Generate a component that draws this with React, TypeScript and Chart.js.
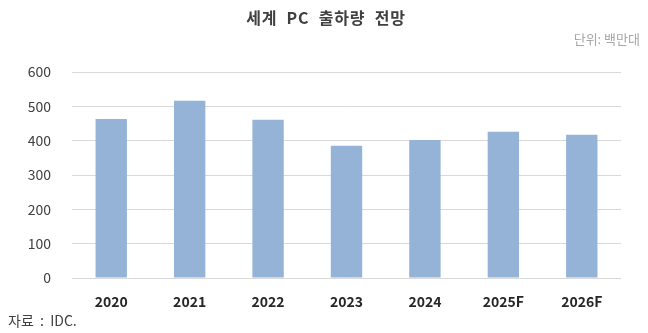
import React, { useEffect, useRef } from "react";
import { Chart, registerables } from "chart.js";

Chart.register(...registerables);

const categories = ["2020", "2021", "2022", "2023", "2024", "2025F", "2026F"];
const shipments = [463, 516, 461, 385, 402, 426, 417];
const yTicks = [0, 100, 200, 300, 400, 500, 600];

const FONT = "'Noto Sans CJK KR', 'Noto Sans', sans-serif";

export default function App() {
  const ref = useRef<HTMLCanvasElement | null>(null);

  useEffect(() => {
    if (!ref.current) return;
    const chart = new Chart(ref.current, {
      type: "bar",
      data: {
        labels: categories,
        datasets: [
          {
            label: "PC 출하량",
            data: shipments,
            backgroundColor: "#95b3d7",
            borderWidth: 0,
            categoryPercentage: 1,
            barPercentage: 0.4,
          },
        ],
      },
      options: {
        responsive: false,
        animation: false,
        layout: { padding: { top: 72, right: 27, bottom: 25, left: 0 } },
        plugins: {
          legend: { display: false },
          tooltip: { enabled: false },
          title: { display: false },
        },
        scales: {
          x: {
            grid: { display: false },
            border: { display: false },
            ticks: {
              color: "#262626",
              font: { family: FONT, size: 14, weight: "bold" },
              padding: 7,
            },
            afterFit: (s: any) => {
              s.height = 30;
            },
          },
          y: {
            min: 0,
            max: 600,
            afterBuildTicks: (s: any) => {
              s.ticks = yTicks.map((v) => ({ value: v }));
            },
            grid: {
              color: "#d9d9d9",
              lineWidth: 1,
              drawTicks: false,
            },
            border: { display: false },
            ticks: {
              color: "#404040",
              font: { family: FONT, size: 14 },
              padding: 21,
            },
            afterFit: (s: any) => {
              s.width = 72;
            },
          },
        },
      },
    });
    return () => chart.destroy();
  }, []);

  return (
    <div
      style={{
        position: "fixed",
        left: 0,
        top: 0,
        width: 648,
        height: 333,
        background: "#fff",
        fontFamily: FONT,
      }}
    >
      <canvas ref={ref} width={648} height={333} style={{ position: "absolute", left: 0, top: 0 }} />
      <div
        style={{
          position: "absolute",
          left: 0,
          width: 648,
          top: 6,
          textAlign: "center",
          fontSize: 16,
          fontWeight: "bold",
          letterSpacing: "0.8px",
          wordSpacing: "5px",
          color: "#404040",
          lineHeight: "22px",
          paddingLeft: 2,
        }}
      >
        세계 PC 출하량 전망
      </div>
      <div
        style={{
          position: "absolute",
          right: 8,
          top: 30,
          fontSize: 13,
          color: "#a6a6a6",
          lineHeight: "18px",
        }}
      >
        단위: 백만대
      </div>
      <div
        style={{
          position: "absolute",
          left: 8,
          top: 311,
          fontSize: 14,
          color: "#404040",
          lineHeight: "18px",
          whiteSpace: "pre",
        }}
      >
        {"자료  :  IDC."}
      </div>
    </div>
  );
}
